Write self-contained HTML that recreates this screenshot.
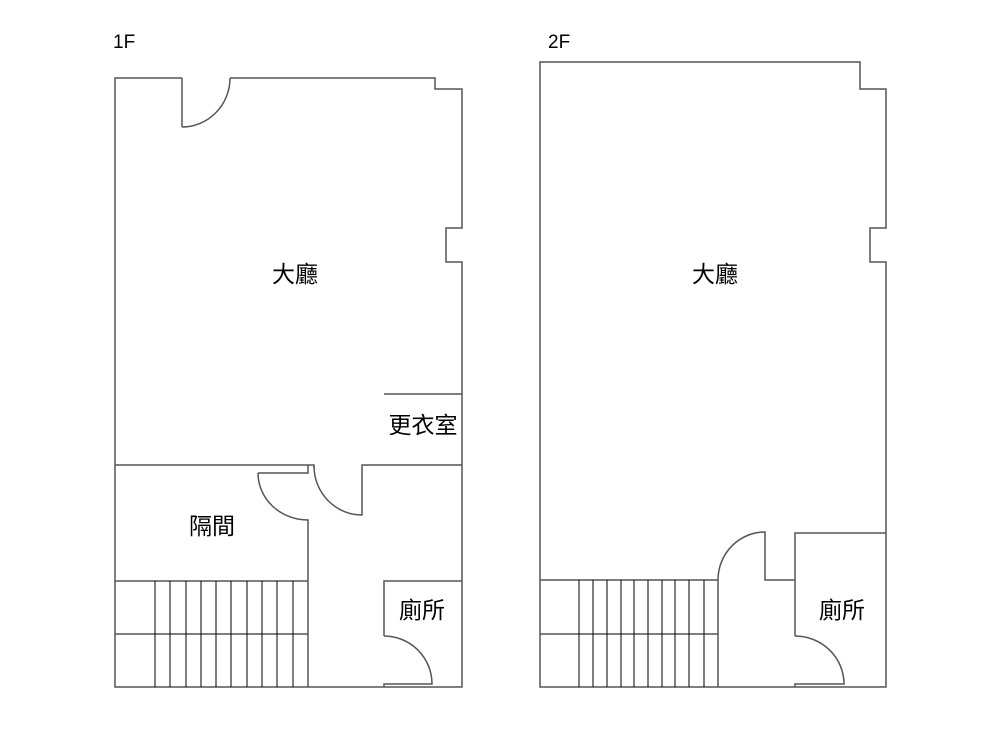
<!DOCTYPE html>
<html><head><meta charset="utf-8"><style>
html,body{margin:0;padding:0;background:#fff;}
svg{display:block;}
text{font-family:"Liberation Sans","Noto Sans CJK TC",sans-serif;fill:#000;}
</style></head><body>
<svg width="1000" height="750" viewBox="0 0 1000 750" xmlns="http://www.w3.org/2000/svg">
<g fill="none" stroke="#555" stroke-width="1.5">
<path d="M182,78 L115,78 L115,687 L462,687 L462,262 L446,262 L446,228 L462,228 L462,89 L435,89 L435,78 L230,78"/>
<path d="M182,78 L182,127"/>
<path d="M182,127 A48,49 0 0 0 230,78"/>
<path d="M115,465 L314,465 L314,468"/>
<path d="M308,465 L308,473 L258,473"/>
<path d="M258,473 A50,47 0 0 0 308,520 L308,687"/>
<path d="M314,466 A48,49 0 0 0 362,515 L362,465 L462,465"/>
<path d="M384,394 L462,394"/>
<path d="M115,581 L308,581 M115,634 L308,634"/>
<path stroke="#000" stroke-width="1" d="M155,581V687 M170,581V687 M186,581V687 M201,581V687 M216,581V687 M231,581V687 M247,581V687 M262,581V687 M277,581V687 M293,581V687"/>
<path d="M462,581 L384,581 L384,636"/>
<path d="M384,636 A48,48 0 0 1 432,684 L384,684 L384,687"/>
<path d="M540,62 L860,62 L860,89 L886,89 L886,228 L870,228 L870,262 L886,262 L886,687 L540,687 Z"/>
<path d="M540,580 L718,580 M540,634 L718,634"/>
<path stroke="#000" stroke-width="1" d="M579,580V687 M593,580V687 M607,580V687 M621,580V687 M634,580V687 M648,580V687 M662,580V687 M675,580V687 M689,580V687 M704,580V687"/>
<path d="M718,687 L718,580 A47,48 0 0 1 765,532 L765,580 L795,580"/>
<path d="M886,533 L795,533 L795,636"/>
<path d="M795,636 A49,48 0 0 1 844,684 L795,684 L795,687"/>
</g>
<text x="113" y="48" font-size="19">1F</text>
<text x="548" y="48" font-size="19">2F</text>
<text x="295" y="282" font-size="23" text-anchor="middle">大廳</text>
<text x="715" y="282" font-size="23" text-anchor="middle">大廳</text>
<text x="423" y="433" font-size="23" text-anchor="middle">更衣室</text>
<text x="212" y="534" font-size="23" text-anchor="middle">隔間</text>
<text x="422" y="618" font-size="23" text-anchor="middle">廁所</text>
<text x="842" y="618" font-size="23" text-anchor="middle">廁所</text>
</svg>
</body></html>
